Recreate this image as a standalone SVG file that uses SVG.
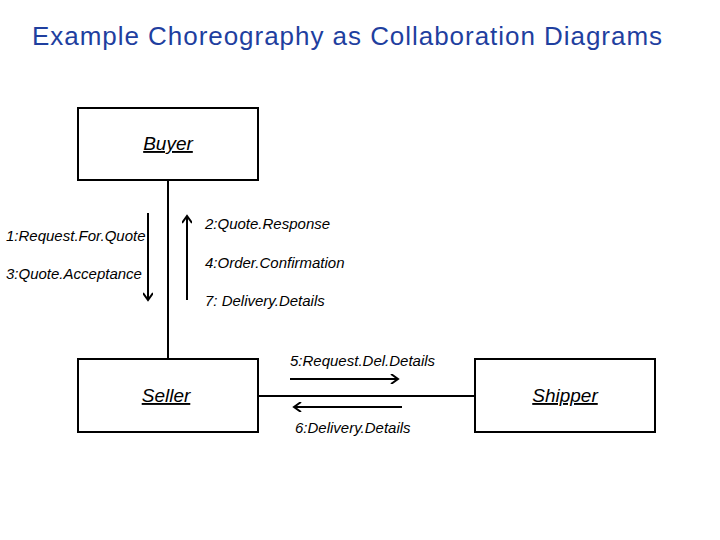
<svg xmlns="http://www.w3.org/2000/svg" width="720" height="540" viewBox="0 0 720 540">
<style>
.box{fill:#fff;stroke:#000;stroke-width:2}
.t{font-family:"Liberation Sans",Arial,sans-serif;font-size:15px;font-style:italic;fill:#000}
.n{font-family:"Liberation Sans",Arial,sans-serif;font-size:19px;font-style:italic;fill:#000;text-decoration:underline}
.l{stroke:#000;stroke-width:2;fill:none}
</style>
<defs><marker id="a" markerWidth="10" markerHeight="10" refX="8" refY="5" orient="auto" markerUnits="userSpaceOnUse"><path d="M1,0 L8,5 L1,10" fill="none" stroke="#000" stroke-width="2"/></marker></defs>
<rect width="720" height="540" fill="#fff"/>
<text x="347" y="45" text-anchor="middle" font-family="Liberation Sans,Arial,sans-serif" font-size="26" textLength="630" fill="#1f3f9f">Example Choreography as Collaboration Diagrams</text>
<g id="connectors">
<line class="l" x1="168" y1="180" x2="168" y2="359"/>
<line class="l" x1="258" y1="396" x2="475" y2="396"/>
<line class="l" x1="148" y1="213" x2="148" y2="300" marker-end="url(#a)"/>
<line class="l" x1="187" y1="300" x2="187" y2="216" marker-end="url(#a)"/>
<line class="l" x1="290" y1="379" x2="398" y2="379" marker-end="url(#a)"/>
<line class="l" x1="402" y1="407" x2="294" y2="407" marker-end="url(#a)"/>
<text class="t" x="6" y="241">1:Request.For.Quote</text>
<text class="t" x="6" y="279">3:Quote.Acceptance</text>
<text class="t" x="205" y="229">2:Quote.Response</text>
<text class="t" x="205" y="268">4:Order.Confirmation</text>
<text class="t" x="205" y="306">7: Delivery.Details</text>
<text class="t" x="290" y="366">5:Request.Del.Details</text>
<text class="t" x="295" y="433">6:Delivery.Details</text>
</g>
<g id="buyer"><rect class="box" x="78" y="108" width="180" height="72"/><text class="n" x="168" y="150" text-anchor="middle">Buyer</text></g>
<g id="seller"><rect class="box" x="78" y="359" width="180" height="73"/><text class="n" x="166" y="402" text-anchor="middle">Seller</text></g>
<g id="shipper"><rect class="box" x="475" y="359" width="180" height="73"/><text class="n" x="565" y="402" text-anchor="middle">Shipper</text></g>
</svg>
